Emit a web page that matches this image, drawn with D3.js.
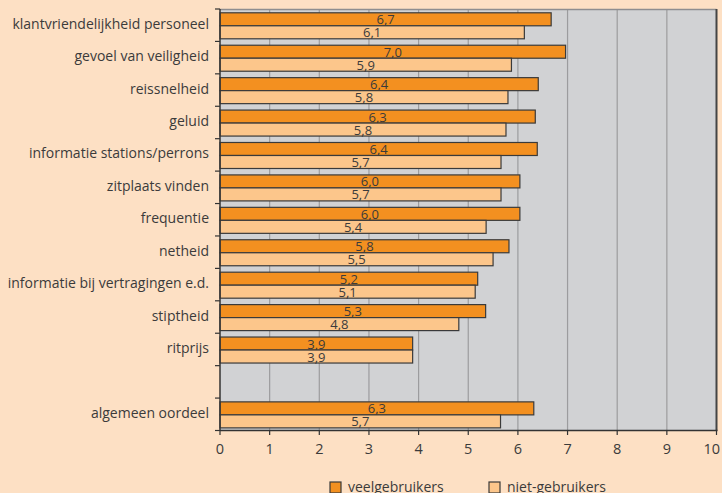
<!DOCTYPE html>
<html><head><meta charset="utf-8">
<script src="https://cdn.jsdelivr.net/npm/d3@7/dist/d3.min.js"></script>
<style>
html,body{margin:0;padding:0;background:#fde0c4;}
svg{display:block;}
text{font-family:"Open Sans",sans-serif;fill:#3b3b3b;}
</style></head><body>
<svg id="c" width="722" height="493"></svg>
<script>
const categories = ["klantvriendelijkheid personeel","gevoel van veiligheid","reissnelheid","geluid","informatie stations/perrons","zitplaats vinden","frequentie","netheid","informatie bij vertragingen e.d.","stiptheid","ritprijs","","algemeen oordeel"];
const veelgebruikers = [6.67,6.96,6.41,6.35,6.39,6.04,6.04,5.82,5.19,5.35,3.88,null,6.32];
const nietgebruikers = [6.13,5.87,5.80,5.76,5.66,5.66,5.36,5.50,5.14,4.81,3.88,null,5.65];
const xTicks = [0,1,2,3,4,5,6,7,8,9,10];
const seriesNames = ["veelgebruikers","niet-gebruikers"];
const colors = ["#f39020","#fcc68b"];

const svg = d3.select("#c");
const x = d3.scaleLinear().domain([0,10]).range([220,716.5]);
const y = d3.scaleBand().domain(categories.map((d,i)=>i)).range([9,430.5]);
const bw = y.bandwidth();
const fmt = v => d3.format(".1f")(v).replace(".",",");

// plot background
svg.append("rect").attr("x",x(0)).attr("y",y.range()[0]).attr("width",x(10)-x(0)).attr("height",y.range()[1]-y.range()[0]).attr("fill","#d1d2d4");
// grid
svg.append("g").selectAll("line").data(xTicks.slice(1,-1)).join("line")
  .attr("x1",d=>x(d)).attr("x2",d=>x(d)).attr("y1",9).attr("y2",430.5)
  .attr("stroke","#9c9c9e").attr("stroke-width",1.2);
// top border
svg.append("line").attr("x1",x(0)).attr("x2",x(10)).attr("y1",9.5).attr("y2",9.5).attr("stroke","#8e8e90").attr("stroke-width",1.5);
// right border
svg.append("line").attr("x1",x(10)).attr("x2",x(10)).attr("y1",9).attr("y2",430.5).attr("stroke","#444").attr("stroke-width",2);

const rows = categories.map((c,i)=>({i, v:[veelgebruikers[i],nietgebruikers[i]]})).filter(d=>d.v[0]!=null);
const barH = 13;
const off = 3.8;
rows.forEach(r=>{
  r.v.forEach((v,k)=>{
    const top = y(r.i)+off+k*barH;
    svg.append("rect").attr("x",x(0)).attr("y",top).attr("width",x(v)-x(0)).attr("height",barH)
      .attr("fill",colors[k]).attr("stroke","#3a3a3a").attr("stroke-width",1.2);
    svg.append("text").attr("x",(x(0)+x(v))/2).attr("y",top+barH-1.5).attr("text-anchor","middle")
      .attr("font-size",13).text(fmt(v));
  });
});

// y axis
const yAxis = svg.append("g");
yAxis.append("line").attr("x1",x(0)).attr("x2",x(0)).attr("y1",9).attr("y2",431).attr("stroke","#333").attr("stroke-width",1.5);
const bounds = categories.map((d,i)=>y(i)).concat([y.range()[1]]);
yAxis.selectAll("line.t").data(bounds).join("line").attr("class","t")
  .attr("x1",x(0)-5).attr("x2",x(0)).attr("y1",d=>d).attr("y2",d=>d).attr("stroke","#333").attr("stroke-width",1.2);
yAxis.selectAll("text").data(categories).join("text")
  .attr("x",209).attr("y",(d,i)=>y(i)+bw/2+3.5).attr("text-anchor","end").attr("font-size",14).text(d=>d);

// x axis
const xAxis = svg.append("g");
xAxis.append("line").attr("x1",x(0)).attr("x2",x(10)+1).attr("y1",430.5).attr("y2",430.5).attr("stroke","#333").attr("stroke-width",1.5);
xAxis.selectAll("line.t").data(xTicks).join("line").attr("class","t")
  .attr("x1",d=>x(d)).attr("x2",d=>x(d)).attr("y1",430.5).attr("y2",435).attr("stroke","#333").attr("stroke-width",1.2);
xAxis.selectAll("text").data(xTicks).join("text")
  .attr("x",d=>d===10 ? 720 : x(d)).attr("y",454).attr("text-anchor",d=>d===10?"end":"middle").attr("font-size",14.5).text(d=>d);

// legend
const lx = [330,489];
seriesNames.forEach((n,k)=>{
  svg.append("rect").attr("x",lx[k]).attr("y",482).attr("width",11).attr("height",11)
    .attr("fill",colors[k]).attr("stroke","#3a3a3a").attr("stroke-width",1.2);
  svg.append("text").attr("x",lx[k]+18).attr("y",492).attr("font-size",14).text(n);
});
</script></body></html>
